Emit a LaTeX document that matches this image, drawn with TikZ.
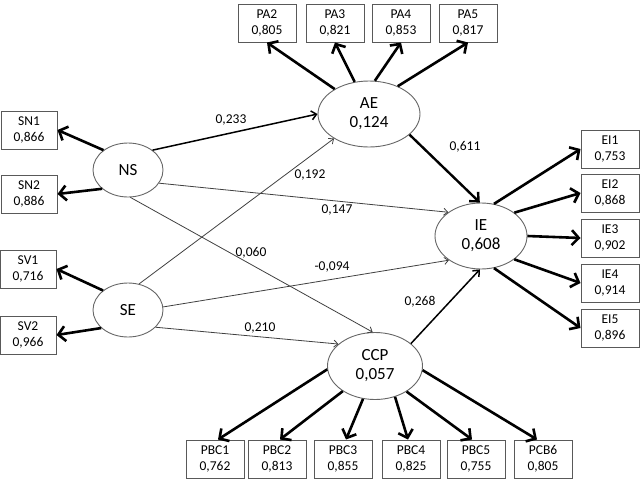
\documentclass[tikz,border=0pt]{standalone}
\usepackage{fontspec}
\setmainfont{Carlito}
\usetikzlibrary{arrows.meta,shapes.geometric}
\tikzset{
  ind/.style={draw=black,line width=2.6pt,-{Straight Barb[length=7pt,width=15pt]}},
  thinp/.style={draw=black!75,line width=0.8pt,-{Straight Barb[length=4pt,width=7pt]}},
  medp/.style={draw=black,line width=1.5pt,-{Straight Barb[length=5pt,width=9pt]}},
  thickp/.style={draw=black,line width=2.4pt,-{Straight Barb[length=7pt,width=13pt]}},
  ibox/.style={draw=black!65,line width=1pt,fill=white,minimum width=58pt,minimum height=38pt,inner sep=0pt,align=center,font=\fontsize{13.5}{16.5}\selectfont},
  lat/.style={ellipse,draw=black!60,line width=0.9pt,fill=white,inner sep=0pt,align=center,font=\fontsize{17}{19}\selectfont},
  coef/.style={font=\fontsize{13.5}{16}\selectfont,inner sep=0pt}
}
\begin{document}
\begin{tikzpicture}[x=1pt,y=-1pt]
\useasboundingbox (0,0) rectangle (643,482);
% latent variables
\node[lat,minimum width=102pt,minimum height=66pt] (AE) at (369,114) {AE\\0,124};
\node[lat,minimum width=70pt,minimum height=54pt] (NS) at (128,170) {NS};
\node[lat,minimum width=70pt,minimum height=54pt] (SE) at (128,310) {SE};
\node[lat,minimum width=92pt,minimum height=66pt] (IE) at (481,236) {IE\\0,608};
\node[lat,minimum width=95pt,minimum height=67pt] (CCP) at (375,366) {CCP\\0,057};
% indicator boxes
\node[ibox] (PA2) at (267,23) {PA2\\0,805};
\node[ibox] (PA3) at (335,23) {PA3\\0,821};
\node[ibox] (PA4) at (401,23) {PA4\\0,853};
\node[ibox] (PA5) at (468,23) {PA5\\0,817};
\node[ibox,minimum width=56pt] (SN1) at (29,130) {SN1\\0,866};
\node[ibox,minimum width=56pt] (SN2) at (29,194) {SN2\\0,886};
\node[ibox,minimum width=56pt] (SV1) at (28,269) {SV1\\0,716};
\node[ibox,minimum width=56pt] (SV2) at (28,335) {SV2\\0,966};
\node[ibox] (EI1) at (610,149) {EI1\\0,753};
\node[ibox] (EI2) at (610,193) {EI2\\0,868};
\node[ibox] (IE3) at (610,238) {IE3\\0,902};
\node[ibox] (IE4) at (610,283) {IE4\\0,914};
\node[ibox] (EI5) at (610,328) {EI5\\0,896};
\node[ibox] (PBC1) at (215,459) {PBC1\\0,762};
\node[ibox] (PBC2) at (277,459) {PBC2\\0,813};
\node[ibox] (PBC3) at (343,459) {PBC3\\0,855};
\node[ibox] (PBC4) at (411,459) {PBC4\\0,825};
\node[ibox] (PBC5) at (476,459) {PBC5\\0,755};
\node[ibox] (PCB6) at (543,459) {PCB6\\0,805};
% loadings
\draw[ind] (AE.144) -- (PA2.south);
\draw[ind] (AE.114) -- (PA3.south);
\draw[ind] (AE.80) -- (PA4.south);
\draw[ind] (AE.44) -- (PA5.south);
\draw[ind] (NS.141) -- (SN1.east);
\draw[ind] (NS.216) -- (SN2.east);
\draw[ind] (SE.142) -- (SV1.east);
\draw[ind] (SE.214) -- (SV2.east);
\draw[ind] (IE.68) -- (EI1.west);
\draw[ind] (IE.35) -- (EI2.west);
\draw[ind] (IE.0) -- (IE3.west);
\draw[ind] (IE.-35) -- (IE4.west);
\draw[ind] (IE.-68) -- (EI5.west);
\draw[ind] (CCP.184) -- ([xshift=3pt]PBC1.north);
\draw[ind] (CCP.218) -- ([xshift=3pt]PBC2.north);
\draw[ind] (CCP.250) -- ([xshift=3pt]PBC3.north);
\draw[ind] (CCP.303) -- ([xshift=-3pt]PBC4.north);
\draw[ind] (CCP.-39) -- ([xshift=-4pt]PBC5.north);
\draw[ind] (CCP.-5) -- ([xshift=-6pt]PCB6.north);
% structural paths
\draw[medp] (NS.39) -- (AE.180);
\draw[thinp] (SE.67) -- (AE.215);
\draw[thinp] (NS.-23) -- (IE.144);
\draw[thinp] (NS.-85) -- (CCP.94);
\draw[thinp] (SE.5) -- (IE.217);
\draw[thinp] (SE.-32) -- (CCP.149);
\draw[thickp] (AE.-27) -- (IE.92);
\draw[medp] (CCP.32) -- (IE.-92);
% coefficients
\node[coef] (c1) at (231,120) {0,233};
\node[coef] (c2) at (310,175) {0,192};
\node[coef] (c3) at (337,210) {0,147};
\node[coef] (c4) at (251,253) {0,060};
\node[coef] (c5) at (332,267) {-0,094};
\node[coef] (c6) at (260,328) {0,210};
\node[coef] (c7) at (465,147) {0,611};
\node[coef] (c8) at (420,302) {0,268};
\end{tikzpicture}
\end{document}
